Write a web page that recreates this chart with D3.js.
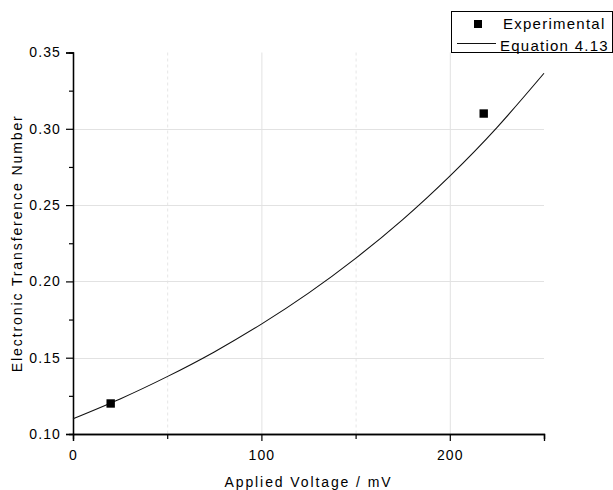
<!DOCTYPE html>
<html>
<head>
<meta charset="utf-8">
<script src="https://cdn.jsdelivr.net/npm/d3@7"></script>
<style>
  body { margin: 0; background: #fff; }
  svg { display: block; font-family: Arial, 'Liberation Sans', sans-serif; }
  .tick-label { font-size: 14px; letter-spacing: 1.1px; fill: #000; }
  .axis-title { font-size: 14px; letter-spacing: 1.9px; fill: #000; }
  .legend-text { font-size: 15px; letter-spacing: 1.25px; fill: #000; }
</style>
</head>
<body>
<div id="chart"></div>
<script>
// data
const expVoltage = [20, 218]
const expNumber = [0.12, 0.31]
const fitVoltage = [0, 25, 50, 75, 100, 125, 150, 175, 200, 225, 250]
const fitNumber = [0.1100, 0.1230, 0.1376, 0.1538, 0.1720, 0.1923, 0.2151, 0.2405, 0.2690, 0.3008, 0.3364]
const xTicks = [0, 100, 200]
const xMinor = [50, 150, 250]
const yTicks = [0.10, 0.15, 0.20, 0.25, 0.30, 0.35]
const yMinor = [0.125, 0.175, 0.225, 0.275, 0.325]
const legendNames = ['Experimental', 'Equation 4.13']

const width = 613
const height = 490
const plotLeft = 73
const plotRight = 544
const plotTop = 52.5
const plotBottom = 434

const svg = d3.select('#chart')
  .append('svg')
  .attr('width', width)
  .attr('height', height)

const x = d3.scaleLinear().domain([0, 250]).range([plotLeft, plotRight])
const y = d3.scaleLinear().domain([0.10, 0.35]).range([plotBottom, plotTop])

// grid
const grid = svg.append('g')
grid.selectAll('.vgrid')
  .data(xTicks.filter(d => d > 0))
  .enter().append('line')
  .attr('x1', d => x(d) + 0.5).attr('x2', d => x(d) + 0.5)
  .attr('y1', plotTop).attr('y2', plotBottom)
  .attr('stroke', '#e2e2e2')
grid.selectAll('.vminor')
  .data(xMinor.filter(d => d < 250))
  .enter().append('line')
  .attr('x1', d => x(d) + 0.5).attr('x2', d => x(d) + 0.5)
  .attr('y1', plotTop).attr('y2', plotBottom)
  .attr('stroke', '#e6e6e6')
  .attr('stroke-dasharray', '3,3')
grid.selectAll('.hgrid')
  .data(yTicks.filter(d => d > 0.1 && d < 0.35))
  .enter().append('line')
  .attr('x1', plotLeft).attr('x2', plotRight)
  .attr('y1', d => Math.round(y(d)) + 0.5).attr('y2', d => Math.round(y(d)) + 0.5)
  .attr('stroke', '#e2e2e2')

// axes
const xAxis = svg.append('g')
  .attr('transform', `translate(0,${plotBottom})`)
  .call(d3.axisBottom(x).tickValues(xTicks).tickSize(7).tickFormat(d3.format('d')))
xAxis.append('g')
  .call(d3.axisBottom(x).tickValues(xMinor).tickSize(5).tickFormat(''))
xAxis.selectAll('.domain').attr('stroke', '#000').attr('stroke-width', 1.3)
xAxis.selectAll('.tick line').attr('stroke', '#000').attr('stroke-width', 1.2)
xAxis.selectAll('.tick text')
  .attr('class', 'tick-label')
  .attr('font-size', null)
  .attr('font-family', null)
  .attr('dy', '1em')
  .attr('y', 12)

const yAxis = svg.append('g')
  .attr('transform', `translate(${plotLeft},0)`)
  .call(d3.axisLeft(y).tickValues(yTicks).tickSize(7).tickFormat(d3.format('.2f')))
yAxis.append('g')
  .call(d3.axisLeft(y).tickValues(yMinor).tickSize(4).tickFormat(''))
yAxis.selectAll('.domain').attr('stroke', '#000').attr('stroke-width', 1.3)
yAxis.selectAll('.tick line').attr('stroke', '#000').attr('stroke-width', 1.2)
yAxis.selectAll('.tick text')
  .attr('class', 'tick-label')
  .attr('font-size', null)
  .attr('font-family', null)
  .attr('x', -12)

// titles
svg.append('text')
  .attr('class', 'axis-title')
  .attr('x', (plotLeft + plotRight) / 2)
  .attr('y', 487)
  .attr('text-anchor', 'middle')
  .text('Applied Voltage / mV')
svg.append('text')
  .attr('class', 'axis-title')
  .attr('transform', `translate(22,${(plotTop + plotBottom) / 2}) rotate(-90)`)
  .attr('text-anchor', 'middle')
  .text('Electronic Transference Number')

// fitted curve
const line = d3.line()
  .x((d, i) => x(fitVoltage[i]))
  .y(d => y(d))
  .curve(d3.curveNatural)
svg.append('path')
  .datum(fitNumber)
  .attr('d', line)
  .attr('fill', 'none')
  .attr('stroke', '#111')
  .attr('stroke-width', 1.1)

// experimental points
svg.append('g').selectAll('rect')
  .data(expVoltage)
  .enter().append('rect')
  .attr('x', d => x(d) - 4.2)
  .attr('y', (d, i) => y(expNumber[i]) - 4.2)
  .attr('width', 8.4)
  .attr('height', 8.4)
  .attr('fill', '#000')

// legend
const legend = svg.append('g')
legend.append('rect')
  .attr('x', 451.5).attr('y', 11.5)
  .attr('width', 161).attr('height', 41)
  .attr('fill', '#fff').attr('stroke', '#000')
legend.append('rect')
  .attr('x', 474).attr('y', 20)
  .attr('width', 8).attr('height', 8)
  .attr('fill', '#000')
legend.append('line')
  .attr('x1', 457).attr('x2', 496)
  .attr('y1', 43.5).attr('y2', 43.5)
  .attr('stroke', '#111')
legend.selectAll('.legend-text')
  .data(legendNames)
  .enter().append('text')
  .attr('class', 'legend-text')
  .attr('x', (d, i) => i === 0 ? 503 : 500)
  .attr('y', (d, i) => i === 0 ? 29 : 51)
  .text(d => d)
</script>
</body>
</html>
